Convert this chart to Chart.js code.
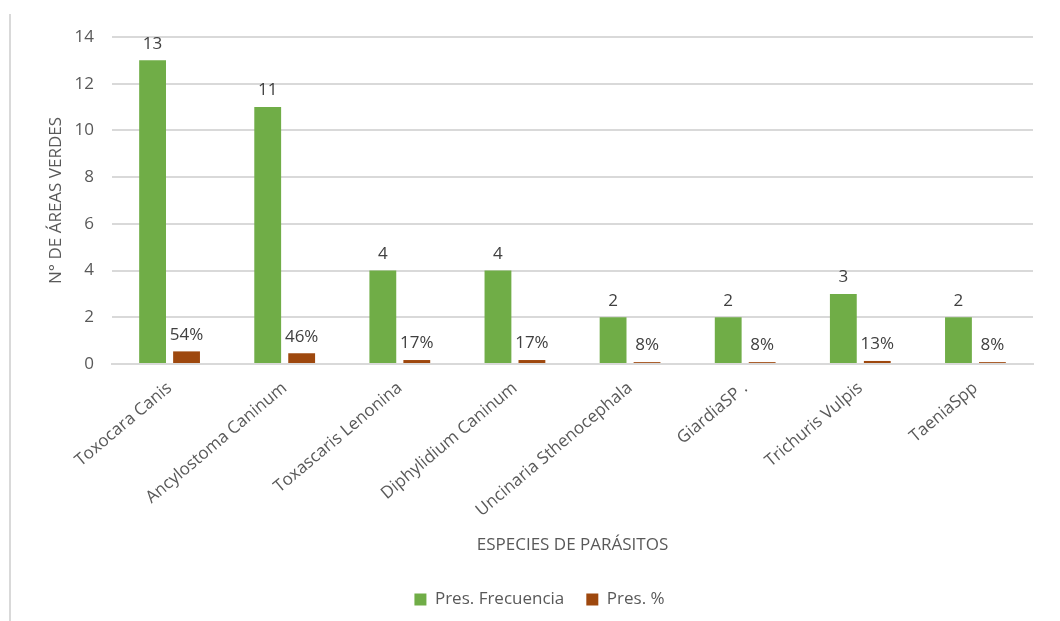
<!DOCTYPE html>
<html>
<head>
<meta charset="utf-8">
<script src="https://cdn.jsdelivr.net/npm/chart.js@4/dist/chart.umd.min.js"></script>
<style>
  html, body { margin: 0; padding: 0; background: #fff; }
  #wrap { position: relative; width: 1060px; height: 621px; }
  #border { position: absolute; left: 9px; top: 14px; width: 0; height: 607px; border-left: 2px solid #d9d9d9; }
  canvas { position: absolute; left: 0; top: 0; }
</style>
</head>
<body>
<div id="wrap">
  <div id="border"></div>
  <canvas id="c" width="1060" height="621"></canvas>
</div>
<script>
const categories = ["Toxocara Canis", "Ancylostoma Caninum", "Toxascaris Lenonina", "Diphylidium Caninum", "Uncinaria Sthenocephala", "GiardiaSP .", "Trichuris Vulpis", "TaeniaSpp"];
const frecuencia = [13, 11, 4, 4, 2, 2, 3, 2];
const porcentaje = [0.54, 0.46, 0.17, 0.17, 0.08, 0.08, 0.13, 0.08];
const yTicks = [0, 2, 4, 6, 8, 10, 12, 14];

const FONT = "'Open Sans', sans-serif";

const labelPlugin = {
  id: 'barLabels',
  afterDatasetsDraw(chart) {
    const ctx = chart.ctx;
    ctx.save();
    ctx.font = "17px " + FONT;
    ctx.fillStyle = "#404040";
    ctx.textAlign = "center";
    ctx.textBaseline = "bottom";
    chart.data.datasets.forEach((ds, i) => {
      const meta = chart.getDatasetMeta(i);
      meta.data.forEach((bar, j) => {
        const v = ds.data[j];
        const txt = i === 0 ? String(v) : Math.round(v * 100) + "%";
        ctx.fillText(txt, bar.x, bar.y - 8);
      });
    });
    ctx.restore();
  }
};

new Chart(document.getElementById('c'), {
  type: 'bar',
  data: {
    labels: categories,
    datasets: [
      { label: 'Pres. Frecuencia', data: frecuencia, backgroundColor: '#70ad47', categoryPercentage: 0.59, barPercentage: 0.79 },
      { label: 'Pres. %', data: porcentaje, backgroundColor: '#9e480e', categoryPercentage: 0.59, barPercentage: 0.79 }
    ]
  },
  options: {
    responsive: false,
    animation: false,
    devicePixelRatio: 1,
    layout: { padding: { left: 46, right: 27, top: 37, bottom: 3 } },
    plugins: {
      legend: {
        position: 'bottom',
        labels: {
          font: { family: FONT, size: 17 },
          color: '#595959',
          boxWidth: 12, boxHeight: 12,
          padding: 22
        }
      },
      tooltip: { enabled: false }
    },
    scales: {
      x: {
        afterFit(scale) { scale.height = 205; },
        grid: { display: false },
        border: { color: '#d9d9d9', width: 2 },
        ticks: {
          font: { family: FONT, size: 17 },
          color: '#595959',
          minRotation: 40, maxRotation: 40,
          padding: 6
        },
        title: {
          display: true, text: 'ESPECIES DE PARÁSITOS',
          font: { family: FONT, size: 17 }, color: '#595959',
          padding: { top: 4, bottom: 14 }
        }
      },
      y: {
        min: 0, max: 14,
        afterFit(scale) { scale.width = 66; },
        afterBuildTicks(scale) { scale.ticks = yTicks.map(v => ({ value: v })); },
        grid: { color: '#d9d9d9', lineWidth: 2, drawTicks: false },
        border: { display: false },
        ticks: {
          font: { family: FONT, size: 17 },
          color: '#595959',
          padding: 18
        },
        title: {
          display: true, text: 'N° DE ÁREAS VERDES',
          font: { family: FONT, size: 17 }, color: '#595959',
          padding: { top: 0, bottom: 0 }
        }
      }
    }
  },
  plugins: [labelPlugin]
});
</script>
</body>
</html>
